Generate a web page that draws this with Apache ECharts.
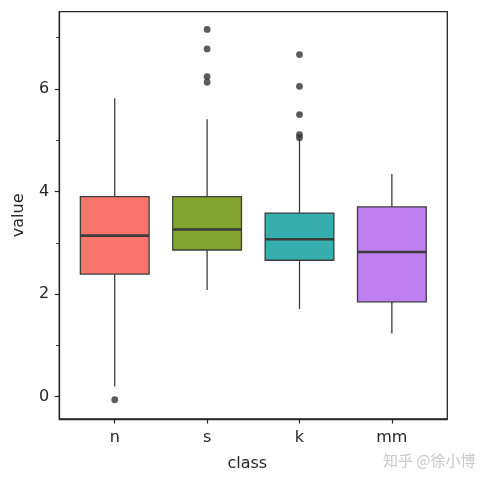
<!DOCTYPE html>
<html>
<head>
<meta charset="utf-8">
<script src="https://cdn.jsdelivr.net/npm/echarts@6/dist/echarts.min.js"></script>
<style>
html,body{margin:0;padding:0;background:#fff;}
#chart{width:485px;height:480px;}
</style>
</head>
<body>
<div id="chart"></div>
<script>
const categories = ['n', 's', 'k', 'mm'];
const lowWhisker  = [0.20, 2.08, 1.71, 1.23];
const q1Values    = [2.39, 2.86, 2.66, 1.85];
const medianValues= [3.14, 3.26, 3.07, 2.82];
const q3Values    = [3.90, 3.90, 3.58, 3.70];
const highWhisker = [5.82, 5.41, 5.03, 4.34];
const outliersN  = [-0.06];
const outliersS  = [7.16, 6.78, 6.24, 6.13];
const outliersK  = [6.67, 6.05, 5.50, 5.11, 5.05];
const outliersMM = [];
const yTickValues = [0, 2, 4, 6];
const yMinorTickValues = [1, 3, 5, 7];
const boxColors = ['#f7756b', '#83a530', '#36aeae', '#bf7ff0'];

const edge = '#3d3d3d';
const textColor = '#262626';
const font = 'DejaVu Sans';

const boxData = categories.map((c, i) => [i, lowWhisker[i], q1Values[i], medianValues[i], q3Values[i], highWhisker[i]]);
const outlierData = [];
[outliersN, outliersS, outliersK, outliersMM].forEach((arr, i) => arr.forEach(v => outlierData.push([i, v])));

const chart = echarts.init(document.getElementById('chart'), null, {renderer: 'canvas'});
chart.setOption({
  animation: false,
  backgroundColor: '#fff',
  grid: {
    left: 59.3, right: 37.7, top: 11.7, bottom: 61,
    show: true, borderColor: textColor, borderWidth: 1.3,
    containLabel: false, outerBoundsMode: 'none'
  },
  xAxis: {
    type: 'value', min: -0.6, max: 3.6,
    name: 'class', nameLocation: 'middle', nameGap: 37,
    nameTextStyle: {fontFamily: font, fontSize: 16, color: textColor, padding: [0, 12, 0, 0]},
    axisLine: {show: true, onZero: false, lineStyle: {color: textColor, width: 1.3}},
    axisTick: {show: true, customValues: [0, 1, 2, 3], length: 4.5, lineStyle: {color: textColor, width: 1.2}},
    axisLabel: {customValues: [0, 1, 2, 3], formatter: v => categories[v], fontFamily: font, fontSize: 16, color: textColor, margin: 11},
    splitLine: {show: false}
  },
  yAxis: [{
    type: 'value', min: -0.435, max: 7.505, position: 'left',
    name: 'value', nameLocation: 'middle', nameGap: 32,
    nameTextStyle: {fontFamily: font, fontSize: 16, color: textColor},
    axisLine: {show: true, onZero: false, lineStyle: {color: textColor, width: 1.3}},
    axisTick: {show: true, customValues: yTickValues, length: 4.5, lineStyle: {color: textColor, width: 1.2}},
    axisLabel: {customValues: yTickValues, fontFamily: font, fontSize: 16, color: textColor, margin: 10},
    splitLine: {show: false}
  }, {
    type: 'value', min: -0.435, max: 7.505, position: 'left', offset: 0,
    axisLine: {show: false, onZero: false},
    axisTick: {show: true, customValues: yMinorTickValues, length: 3, lineStyle: {color: textColor, width: 1}},
    axisLabel: {show: false},
    splitLine: {show: false}
  }],
  graphic: [{
    type: 'text', left: 383, top: 453,
    style: {text: '知乎 @徐小博', font: '15px "Noto Sans CJK SC"', fill: '#c9c9c9'}
  }],
  series: [{
    type: 'custom',
    xAxisIndex: 0, yAxisIndex: 0,
    encode: {x: 0, y: [1, 2, 3, 4, 5]},
    data: boxData,
    renderItem: function (params, api) {
      const i = api.value(0);
      const band = api.size([1, 0])[0];
      const half = band * 0.372;
      const pLow = api.coord([i, api.value(1)]);
      const pQ1 = api.coord([i, api.value(2)]);
      const pMed = api.coord([i, api.value(3)]);
      const pQ3 = api.coord([i, api.value(4)]);
      const pHigh = api.coord([i, api.value(5)]);
      const x = pLow[0];
      return {
        type: 'group',
        children: [
          {type: 'line', shape: {x1: x, y1: pHigh[1], x2: x, y2: pQ3[1]}, style: {stroke: edge, lineWidth: 1.3}},
          {type: 'line', shape: {x1: x, y1: pQ1[1], x2: x, y2: pLow[1]}, style: {stroke: edge, lineWidth: 1.3}},
          {type: 'rect', shape: {x: x - half, y: pQ3[1], width: 2 * half, height: pQ1[1] - pQ3[1]},
           style: {fill: boxColors[i], stroke: edge, lineWidth: 1.3}},
          {type: 'line', shape: {x1: x - half, y1: pMed[1], x2: x + half, y2: pMed[1]}, style: {stroke: edge, lineWidth: 2.6}}
        ]
      };
    }
  }, {
    type: 'scatter',
    xAxisIndex: 0, yAxisIndex: 0,
    data: outlierData,
    symbol: 'circle', symbolSize: 6.8,
    itemStyle: {color: '#333333'}
  }]
});
</script>
</body>
</html>
